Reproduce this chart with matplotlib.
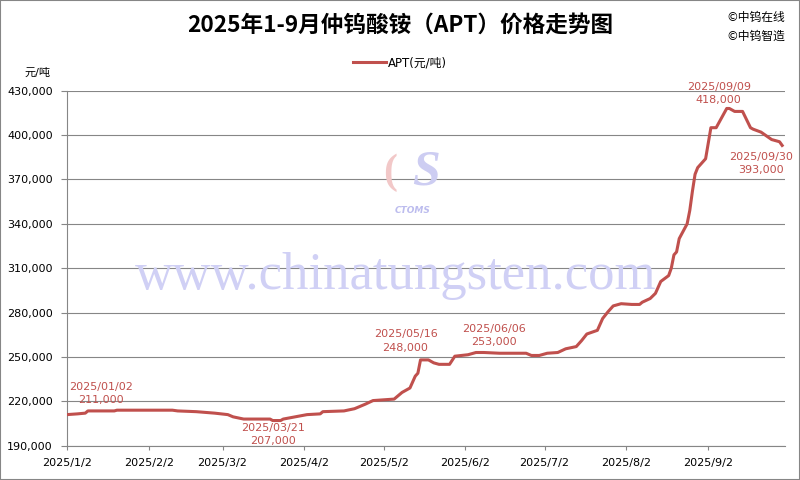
import matplotlib
matplotlib.use("Agg")
import matplotlib.pyplot as plt
import matplotlib.dates as mdates
from matplotlib.ticker import FuncFormatter
from matplotlib.patches import Rectangle
import pandas as pd

# APT price, yuan/ton
dates = ["2025-01-02", "2025-01-06", "2025-01-09", "2025-01-10", "2025-01-20", "2025-01-21",
         "2025-02-11", "2025-02-13", "2025-02-20", "2025-02-27", "2025-03-04", "2025-03-06",
         "2025-03-10", "2025-03-20", "2025-03-21", "2025-03-24", "2025-03-25", "2025-03-28",
         "2025-03-31", "2025-04-03", "2025-04-08", "2025-04-09", "2025-04-17", "2025-04-21",
         "2025-04-23", "2025-04-25", "2025-04-28", "2025-05-06", "2025-05-09", "2025-05-12",
         "2025-05-14", "2025-05-15", "2025-05-16", "2025-05-19", "2025-05-21", "2025-05-23",
         "2025-05-27", "2025-05-29", "2025-06-03", "2025-06-05", "2025-06-06", "2025-06-09",
         "2025-06-15", "2025-06-25", "2025-06-27", "2025-06-30", "2025-07-03", "2025-07-07",
         "2025-07-10", "2025-07-14", "2025-07-16", "2025-07-18", "2025-07-22", "2025-07-24",
         "2025-07-26", "2025-07-28", "2025-07-31", "2025-08-04", "2025-08-07", "2025-08-08",
         "2025-08-11", "2025-08-13", "2025-08-15", "2025-08-18", "2025-08-19", "2025-08-20",
         "2025-08-21", "2025-08-22", "2025-08-25", "2025-08-26", "2025-08-27", "2025-08-28",
         "2025-08-29", "2025-09-01", "2025-09-03", "2025-09-05", "2025-09-09", "2025-09-10",
         "2025-09-12", "2025-09-15", "2025-09-18", "2025-09-19", "2025-09-22", "2025-09-26",
         "2025-09-28", "2025-09-29", "2025-09-30"]
prices = [211000, 211500, 212000, 213500, 213500, 214000,
          214000, 213500, 213000, 212000, 211000, 209500,
          208000, 208000, 207000, 207000, 208000, 209000,
          210000, 211000, 211500, 213000, 213500, 215000,
          216500, 218000, 220500, 221500, 226000, 229000,
          237000, 239000, 248000, 248000, 246000, 245000,
          245000, 250500, 251500, 252500, 253000, 253000,
          252500, 252500, 251000, 251000, 252500, 253000,
          255500, 257000, 261000, 265500, 268000, 276000,
          280500, 284500, 286000, 285500, 285500, 287000,
          289500, 293000, 301000, 305000, 310000, 319000,
          321000, 330000, 340000, 349000, 362000, 373500,
          378000, 384000, 405000, 405000, 418000, 418000,
          416000, 416000, 405000, 404000, 402000, 397000,
          396000, 395500, 393000]

# labelled points: date, value, label, pixel offset of the label block
notes = [("2025-01-02", 211000, "2025/01/02\n211,000", (34, 21)),
         ("2025-03-21", 207000, "2025/03/21\n207,000", (0, -14)),
         ("2025-05-16", 248000, "2025/05/16\n248,000", (-15, 19)),
         ("2025-06-06", 253000, "2025/06/06\n253,000", (18, 17)),
         ("2025-09-09", 418000, "2025/09/09\n418,000", (-8, 15)),
         ("2025-09-30", 393000, "2025/09/30\n393,000", (-21, -18))]

tick_dates = ["2025-01-02", "2025-02-02", "2025-03-02", "2025-04-02", "2025-05-02",
              "2025-06-02", "2025-07-02", "2025-08-02", "2025-09-02"]
y_ticks = list(range(190000, 430001, 30000))

red = "#C0504D"
gray = "#868686"

plt.rcParams['font.family'] = ['DejaVu Sans', 'Noto Sans CJK SC']

fig = plt.figure(figsize=(8, 4.8), dpi=100)
ax = fig.add_axes([0.0835, 0.0715, 0.8975, 0.7395])

x = pd.to_datetime(dates)
ax.plot(x, prices, color=red, lw=2.2, solid_joinstyle="round", label="APT(元/吨)", zorder=3)

for d, v, txt, off in notes:
    ax.annotate(txt, xy=(pd.Timestamp(d), v), xytext=off, textcoords="offset pixels",
                ha="center", va="center", color=red, fontsize=8, linespacing=1.45, zorder=4)

ax.set_xlim(pd.Timestamp("2025-01-02"), pd.Timestamp("2025-10-01"))
ax.set_ylim(190000, 430000)
ax.set_yticks(y_ticks)
ax.yaxis.set_major_formatter(FuncFormatter(lambda v, p: f"{int(v):,}"))
ax.set_xticks(pd.to_datetime(tick_dates))
ax.xaxis.set_major_formatter(FuncFormatter(
    lambda v, p: "{0}/{1}/{2}".format(*[int(s) for s in mdates.num2date(v).strftime("%Y %m %d").split()])))

ax.grid(axis="y", color=gray, lw=0.8)
ax.set_axisbelow(True)
for s in ["top", "right"]:
    ax.spines[s].set_visible(False)
for s in ["left", "bottom"]:
    ax.spines[s].set_color(gray)
    ax.spines[s].set_linewidth(0.8)
ax.tick_params(axis="y", length=4, color=gray, labelsize=8, pad=6)
ax.tick_params(axis="x", length=3, color=gray, labelsize=8, pad=6)

ax.legend(loc="center", bbox_to_anchor=(0.5, 0.869), bbox_transform=fig.transFigure,
          frameon=False, fontsize=8.5, handlelength=2.8, handletextpad=0.1)

fig.text(0.5, 0.948, "2025年1-9月仲钨酸铵（APT）价格走势图", ha="center", va="center",
         fontsize=16.3, fontweight="bold", family=["Noto Sans CJK SC"])
fig.text(0.908, 0.964, "©中钨在线", ha="left", va="center", fontsize=8.5)
fig.text(0.908, 0.925, "©中钨智造", ha="left", va="center", fontsize=8.5)
fig.text(0.047, 0.848, "元/吨", ha="center", va="center", fontsize=8)

# watermark
ax.text(0.494, 0.425, "www.chinatungsten.com", transform=fig.transFigure, ha="center", va="center",
        fontsize=38, family="Liberation Serif", color="#d0d0f5", zorder=1)
ax.text(0.532, 0.64, "S", transform=fig.transFigure, ha="center", va="center",
        fontsize=36, fontweight="bold", style="italic", family="Liberation Serif",
        color="#cdcdf2", zorder=1)
ax.text(0.488, 0.64, "(", transform=fig.transFigure, ha="center", va="center",
        fontsize=30, fontweight="bold", family="Liberation Serif", color="#f2c8c8", zorder=1)
ax.text(0.516, 0.562, "CTOMS", transform=fig.transFigure, ha="center", va="center",
        fontsize=6.5, fontweight="bold", style="italic", color="#bcbcee", zorder=1)

fig.patches.append(Rectangle((0, 0), 1, 1, transform=fig.transFigure, fill=False,
                             edgecolor=gray, lw=1.5))

fig.savefig("out.png", dpi=100)
